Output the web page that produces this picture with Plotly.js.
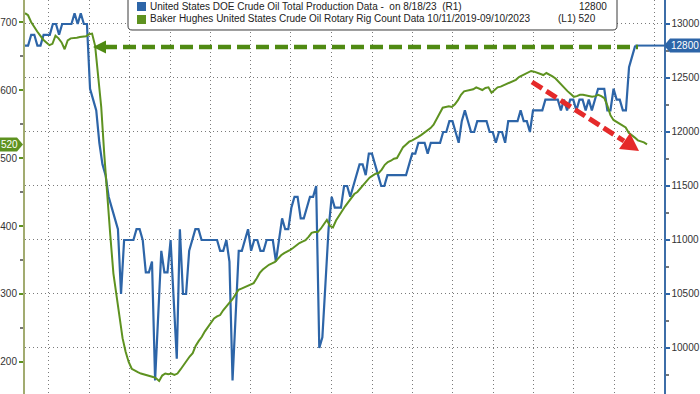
<!DOCTYPE html>
<html><head><meta charset="utf-8">
<script src="https://cdn.plot.ly/plotly-3.0.1.min.js"></script>
<style>html,body{margin:0;padding:0;background:#fff;}#chart{width:700px;height:394px;}</style>
</head><body><div id="chart"></div>
<script>
// US DOE crude oil production (thousand b/d), weekly from 2019-11-08 to 2023-08-18
const productionStart = '2019-11-08';
const productionValues = [
12800,12800,12900,12900,12800,12800,12900,12900,12900,13000,
13000,12900,13000,13000,13000,13000,13100,13000,13100,13000,
13000,12400,12300,12200,11900,11700,11600,11400,11300,11200,
11100,10500,11000,11000,11000,11000,11100,11100,11000,10700,
10700,10800,9700,10300,10900,10700,10700,11000,10500,9900,
11100,10500,10500,10900,11000,11100,11100,11000,11000,11000,
11000,11000,11000,10900,10900,11000,10800,9700,10300,10900,
10900,11000,11100,10900,11000,11000,10900,10900,11000,11000,
11000,10800,11000,11200,11100,11100,11300,11400,11400,11200,
11200,11300,11400,11400,11500,10000,10100,10600,11100,11400,
11300,11300,11300,11500,11500,11400,11500,11600,11700,11700,
11600,11800,11800,11700,11600,11500,11500,11600,11600,11600,
11600,11600,11600,11600,11700,11800,11800,11900,11900,11900,
11800,11900,11900,11900,11900,12000,12000,12100,12100,12000,
11900,12100,12200,12100,12000,12000,12100,12100,12100,12100,
12000,12000,11900,12000,12000,11900,12100,12100,12100,12100,
12200,12100,12100,12000,12200,12200,12200,12200,12300,12300,
12300,12300,12300,12200,12300,12200,12300,12300,12200,12300,
12300,12200,12300,12200,12300,12400,12400,12400,12200,12200,
12400,12300,12300,12200,12200,12600,12700,12800];

// Baker Hughes US oil rig count, weekly from 2019-10-11 to 2023-09-08
const rigStart = '2019-10-11';
const rigValues = [
713,710,700,692,686,680,674,670,666,668,
680,676,670,660,673,676,676,677,678,679,
679,682,683,665,622,575,505,440,385,330,
298,262,235,215,200,190,187,185,183,182,
181,180,178,176,172,180,183,182,183,181,
183,189,196,203,208,213,224,231,237,245,
251,258,264,267,269,276,282,287,292,300,
306,308,310,312,314,316,323,331,336,340,
343,345,347,352,357,360,362,365,368,372,
375,377,379,384,390,391,391,396,402,409,
400,398,408,416,422,429,435,440,447,450,
455,461,466,471,474,477,478,483,490,494,
496,499,500,508,516,520,524,526,528,531,
534,537,540,544,549,557,566,574,575,576,
575,579,585,593,598,599,600,601,604,602,
600,603,604,596,600,604,605,607,609,610,
612,615,619,621,624,626,628,627,625,623,
622,625,623,620,617,612,608,603,598,594,
590,591,593,593,592,591,590,591,593,591,
588,577,563,556,553,551,547,545,537,534,
530,526,525,523,520];

const productionLabel = 'United States DOE Crude Oil Total Production Data -  on 8/18/23  (R1)';
const rigLabel = 'Baker Hughes United States Crude Oil Rotary Rig Count Data 10/11/2019-09/10/2023';
const rigTag = '(L1) 520';
const leftTicks = [200, 300, 400, 500, 600, 700];
const rightTicks = [10000, 10500, 11000, 11500, 12000, 12500, 13000];

const BLUE = '#2d65a8', GREEN = '#5e9220', ARROWGREEN = '#4f8a12', RED = '#e52a2a';

function weekly(start, n) {
  const t0 = Date.parse(start + 'T00:00:00Z');
  const out = [];
  for (let i = 0; i < n; i++) out.push(new Date(t0 + i * 7 * 86400000).toISOString().slice(0, 10));
  return out;
}
const productionDates = weekly(productionStart, productionValues.length);
const rigDates = weekly(rigStart, rigValues.length);
const lastProd = productionValues[productionValues.length - 1];
const lastRig = rigValues[rigValues.length - 1];

// pixel -> paper helpers (plot area x 25..664, y 0..394)
const L = 25, R = 664, H = 394;
const X = x => (x - L) / (R - L);
const Y = y => 1 - y / H;
const P = (x, y) => X(x).toFixed(5) + ',' + Y(y).toFixed(5);

const FONT = 'Liberation Sans, Arial, sans-serif';
const xEnd = '2023-10-22';

// blue on main subplot (x, y = right production axis); green on overlay (x2, y2 = left rig axis)
const traces = [
  {x: productionDates, y: productionValues, xaxis: 'x', yaxis: 'y', type: 'scatter', mode: 'lines',
   line: {color: BLUE, width: 2.2}, hoverinfo: 'skip'},
  {x: rigDates, y: rigValues, xaxis: 'x2', yaxis: 'y2', type: 'scatter', mode: 'lines',
   line: {color: GREEN, width: 2}, hoverinfo: 'skip'}
];

const rigHalf = 7 / 0.68, prodHalf = 7 / 0.108;
const shapes = [
  {type: 'line', xref: 'x', yref: 'y', x0: productionDates[productionDates.length - 1], x1: xEnd,
   y0: lastProd, y1: lastProd, line: {color: BLUE, width: 2}},
  {type: 'line', xref: 'paper', yref: 'paper', x0: X(104), x1: X(638), y0: Y(47), y1: Y(47),
   line: {color: ARROWGREEN, width: 4.5, dash: '13px,6px'}},
  {type: 'path', xref: 'paper', yref: 'paper', path: 'M' + P(93, 47) + ' L' + P(106, 40.5) + ' L' + P(106, 53.5) + ' Z',
   fillcolor: ARROWGREEN, line: {width: 0}},
  {type: 'line', xref: 'paper', yref: 'paper', x0: X(532), y0: Y(82), x1: X(624), y1: Y(141),
   line: {color: RED, width: 5, dash: '12px,5px'}},
  {type: 'path', xref: 'paper', yref: 'paper', path: 'M' + P(639, 151) + ' L' + P(619, 149) + ' L' + P(630, 133) + ' Z',
   fillcolor: RED, line: {width: 0}},
  {type: 'path', xref: 'paper', yref: 'paper',
   path: 'M' + P(128, -3) + ' L' + P(128, 26) + ' Q' + P(128, 30) + ' ' + P(132, 30) + ' L' + P(613, 30) +
         ' Q' + P(617, 30) + ' ' + P(617, 26) + ' L' + P(617, -3) + ' Z',
   fillcolor: '#ffffff', line: {color: '#3a3a3a', width: 1}},
  {type: 'rect', xref: 'paper', yref: 'paper', x0: X(137), x1: X(146), y0: Y(2), y1: Y(11), fillcolor: BLUE, line: {width: 0}},
  {type: 'rect', xref: 'paper', yref: 'paper', x0: X(137), x1: X(146), y0: Y(15), y1: Y(24), fillcolor: GREEN, line: {width: 0}},
  {type: 'path', xref: 'paper', yref: 'y2',
   path: 'M' + X(0) + ',' + (lastRig + rigHalf) + ' L' + X(17) + ',' + (lastRig + rigHalf) + ' L' + X(23) + ',' + lastRig +
         ' L' + X(17) + ',' + (lastRig - rigHalf) + ' L' + X(0) + ',' + (lastRig - rigHalf) + ' Z',
   fillcolor: GREEN, line: {width: 0}},
  {type: 'path', xref: 'paper', yref: 'y',
   path: 'M' + X(664) + ',' + lastProd + ' L' + X(670) + ',' + (lastProd + prodHalf) + ' L' + X(700) + ',' + (lastProd + prodHalf) +
         ' L' + X(700) + ',' + (lastProd - prodHalf) + ' L' + X(670) + ',' + (lastProd - prodHalf) + ' Z',
   fillcolor: BLUE, line: {width: 0}}
];

const annotations = [
  {xref: 'paper', yref: 'paper', x: X(148), y: Y(7), xanchor: 'left', yanchor: 'middle', showarrow: false,
   text: productionLabel.replace(/  /g, '&nbsp; '), font: {family: FONT, size: 10, color: '#222'}},
  {xref: 'paper', yref: 'paper', x: X(609), y: Y(7), xanchor: 'right', yanchor: 'middle', showarrow: false,
   text: String(lastProd), font: {family: FONT, size: 10, color: '#222'}},
  {xref: 'paper', yref: 'paper', x: X(148), y: Y(19), xanchor: 'left', yanchor: 'middle', showarrow: false,
   text: rigLabel, font: {family: FONT, size: 10, color: '#222'}},
  {xref: 'paper', yref: 'paper', x: X(598), y: Y(19), xanchor: 'right', yanchor: 'middle', showarrow: false,
   text: rigTag, font: {family: FONT, size: 10, color: '#222'}},
  {xref: 'paper', yref: 'y2', x: X(9), y: lastRig, xanchor: 'center', yanchor: 'middle', showarrow: false,
   text: String(lastRig), font: {family: FONT, size: 10, color: '#ffffff'}},
  {xref: 'paper', yref: 'y', x: X(685), y: lastProd, xanchor: 'center', yanchor: 'middle', showarrow: false,
   text: String(lastProd), font: {family: FONT, size: 10, color: '#ffffff'}}
];

const layout = {
  width: 700, height: 394,
  margin: {l: 25, r: 36, t: 0, b: 0, pad: 0},
  paper_bgcolor: '#ffffff', plot_bgcolor: '#ffffff',
  showlegend: false,
  font: {family: FONT, size: 10, color: '#333'},
  xaxis: {type: 'date', range: [productionStart, xEnd], showgrid: true, gridcolor: '#7a7a7a', gridwidth: 1,
          griddash: '1px,3px', tick0: '2020-01-01', dtick: 'M3', showticklabels: false, ticks: '',
          zeroline: false, showline: false, fixedrange: true},
  xaxis2: {type: 'date', overlaying: 'x', anchor: 'y2', range: [rigStart, '2023-10-17'], visible: false, fixedrange: true},
  yaxis: {side: 'right', range: [9574, 13222], tickmode: 'array',
          tickvals: rightTicks, ticktext: rightTicks.map(String),
          ticks: 'outside', ticklen: 4, tickwidth: 2, tickcolor: BLUE,
          showline: true, linecolor: '#3d6ea8', linewidth: 1.5, zeroline: false,
          showgrid: true, gridcolor: '#7a7a7a', gridwidth: 1, griddash: '1px,3px',
          tickfont: {family: FONT, size: 10, color: '#333'},
          minor: {tickmode: 'linear', tick0: 9750, dtick: 500, ticks: 'outside', ticklen: 3, tickcolor: '#777', showgrid: false},
          fixedrange: true},
  yaxis2: {overlaying: 'y', side: 'left', anchor: 'x2', range: [152.9, 732.4], tickmode: 'array', tickvals: leftTicks,
           ticktext: leftTicks.map(String),
           ticks: 'outside', ticklen: 4, tickwidth: 2, tickcolor: GREEN,
           showline: true, linecolor: '#a2ab70', linewidth: 2, showgrid: false, zeroline: false,
           tickfont: {family: FONT, size: 10, color: '#333'},
           minor: {tickmode: 'linear', tick0: 150, dtick: 100, ticks: 'outside', ticklen: 3, tickcolor: '#777', showgrid: false},
           fixedrange: true},
  shapes: shapes,
  annotations: annotations
};

Plotly.newPlot('chart', traces, layout, {staticPlot: true, displayModeBar: false});
</script>
</body></html>
